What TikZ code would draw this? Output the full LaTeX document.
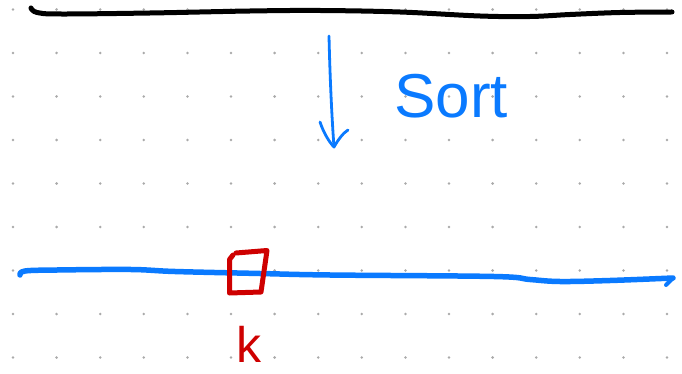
\documentclass[tikz,border=0pt]{standalone}
\usepackage{fontspec}
\setmainfont{Liberation Sans}
\definecolor{penblue}{RGB}{10,122,255}
\definecolor{penred}{RGB}{206,0,0}
\definecolor{dotgray}{RGB}{170,170,170}
\begin{document}
\begin{tikzpicture}[x=1pt,y=-1pt,
  ink/.style={line cap=round,line join=round},
  dotmark/.style={fill=dotgray},
  blackpen/.style={ink,black,line width=5},
  bluepen/.style={ink,penblue,line width=5.5},
  bluethin/.style={ink,penblue,line width=2.8},
  redpen/.style={ink,penred,line width=5},
  sortlabel/.style={penblue,font=\fontsize{62}{62}\selectfont,anchor=base west,inner sep=0},
  klabel/.style={penred,font=\fontsize{50}{50}\selectfont,anchor=base west,inner sep=0}]
\useasboundingbox (0,0) rectangle (682,374);
% dot grid
\foreach \i in {0,...,15}
  \foreach \j in {0,...,8}
    \fill[dotmark] (13+43.6*\i, 9.5+43.5*\j) circle (1.4);
% top black line
\draw[blackpen] plot[smooth,tension=0.6] coordinates {(31,8) (37,12.5) (60,14) (150,13) (250,11) (320,10.5) (400,12) (480,16) (530,16.5) (570,14.5) (620,12.5) (672,12)};
% sort arrow
\coordinate (arrtop) at (329,36);
\coordinate (arrtip) at (334,147);
\coordinate (barbl) at (320,122);
\coordinate (barbr) at (348,130);
\draw[bluethin] (arrtop) .. controls (330,80) and (332,120) .. (arrtip);
\draw[bluethin] (barbl) .. controls (324,134) and (330,143) .. (arrtip) .. controls (338,140) and (343,133) .. (barbr);
\node[sortlabel] (sort) at (394,118) {Sort};
% bottom blue line
\coordinate (lineend) at (673,278);
\coordinate (hook) at (666,285);
\draw[bluepen] plot[smooth,tension=0.6] coordinates {(20,275) (25,271) (57,270) (131,269.5) (175,271.5) (260,273.5) (330,275) (494,276.5) (530,279.5) (560,281.5) (610,280.5) (673,278)};
\draw[bluepen,line width=4] (lineend) -- (hook);
% red marker box
\draw[redpen] (233,255) -- (229.5,259.5) -- (229.5,293) -- (261,292) -- (267,250.5) -- (236,253);
\node[klabel] (k) at (236,362) {k};
\end{tikzpicture}
\end{document}
